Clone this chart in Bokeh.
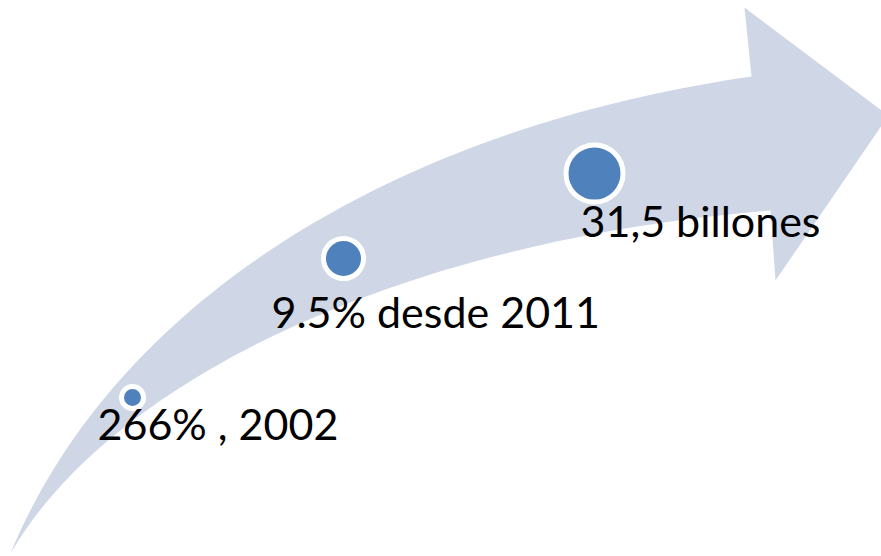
import numpy as np
from bokeh.plotting import figure
from bokeh.models import Range1d, ColumnDataSource
from bokeh.core.properties import value
from bokeh.embed import file_html
from bokeh.resources import INLINE

# ---- data ----
labels = ["266% , 2002", "9.5% desde 2011", "31,5 billones"]
marker_size = [22, 40, 57]  # growth steps (small -> large)

# ---- layout (pixel space) ----
W, H = 881, 556
circle_x = [132, 343, 594]
circle_y = [397, 258, 173]
label_x = [97, 271, 580]
label_y = [423, 311, 220]

p = figure(width=W, height=H, x_range=Range1d(0, W), y_range=Range1d(H, 0),
           output_backend="svg", toolbar_location=None, min_border=0)
p.axis.visible = False
p.grid.visible = False
p.outline_line_color = None
p.background_fill_color = "white"
p.border_fill_color = "white"


def bezier(p0, p1, p2, p3, n=80):
    t = np.linspace(0, 1, n)[:, None]
    pts = ((1 - t) ** 3) * np.array(p0) + 3 * ((1 - t) ** 2) * t * np.array(p1) \
        + 3 * (1 - t) * t ** 2 * np.array(p2) + t ** 3 * np.array(p3)
    return pts[:, 0], pts[:, 1]


ux, uy = bezier((10, 553), (110, 310), (380, 130), (751, 76))
lx, ly = bezier((10, 553), (110, 380), (400, 240), (770, 210))
head_x = [744, 888, 775]
head_y = [7, 115, 280]

xs = list(ux) + head_x + list(lx[::-1])
ys = list(uy) + head_y + list(ly[::-1])
p.patch(xs, ys, fill_color="#CFD7E7", line_color=None)

src = ColumnDataSource(dict(x=circle_x, y=circle_y, s=marker_size))
p.scatter("x", "y", size="s", source=src, fill_color="#4F81BD",
          line_color="white", line_width=5)

tsrc = ColumnDataSource(dict(x=label_x, y=label_y, t=labels))
p.text("x", "y", text="t", source=tsrc, text_font=value("Lato"),
       text_font_size="43px", text_color="black", text_align="left",
       text_baseline="alphabetic")

open("out.html", "w").write(file_html(p, INLINE))
